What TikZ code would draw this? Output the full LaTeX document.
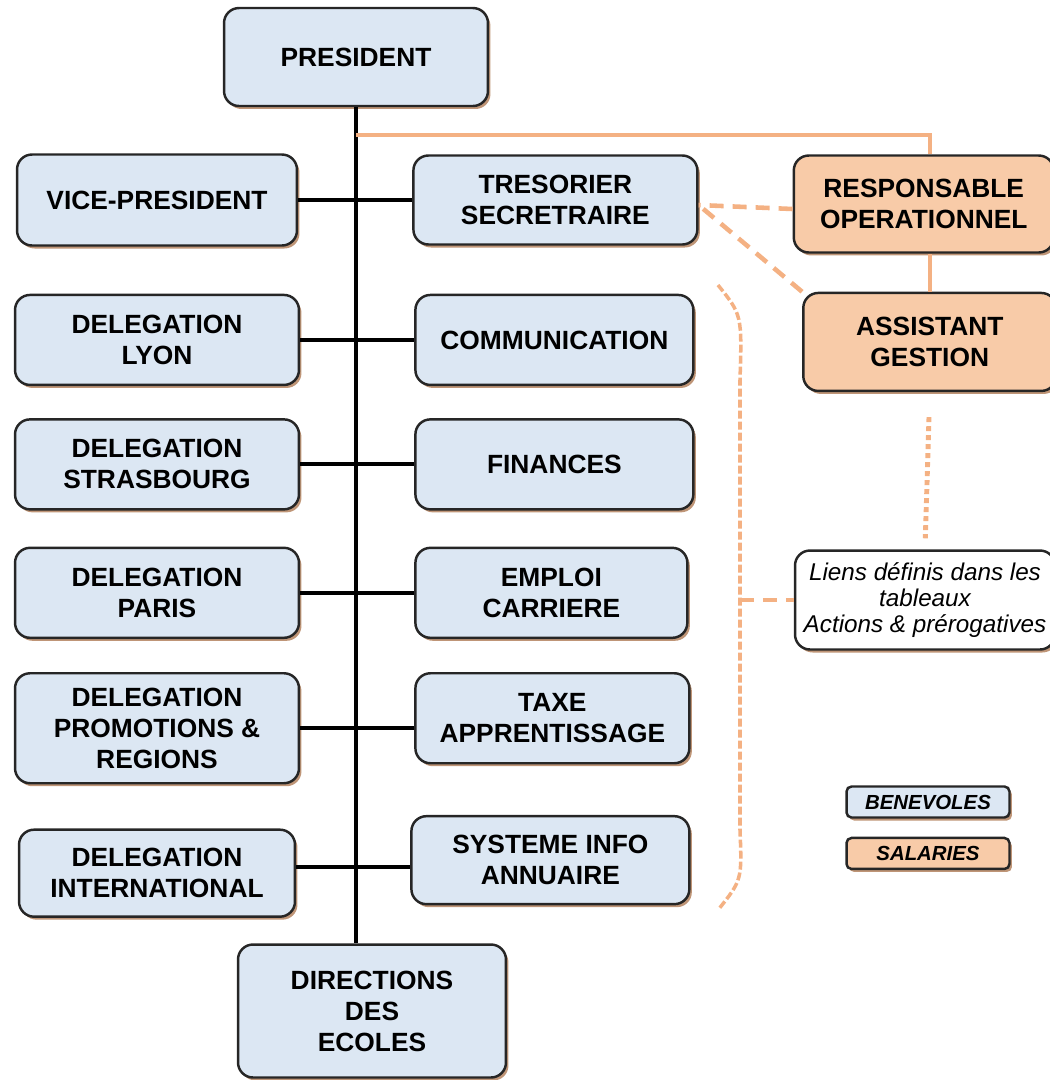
\documentclass[tikz,border=0pt]{standalone}
\usepackage{fontspec}
\setmainfont{Liberation Sans}
\usetikzlibrary{positioning,shadows,calc}

\definecolor{benfill}{HTML}{DCE7F3}
\definecolor{salfill}{HTML}{F8CBA8}
\definecolor{salline}{HTML}{F4B183}
\definecolor{shade}{HTML}{B88A68}

\begin{document}
\begin{tikzpicture}[x=0.02cm, y=-0.02cm,
				box/.style={rectangle, rounded corners=0.3cm, draw=black!85, line width=1.4pt, align=center, inner sep=2pt,
					font=\fontsize{15}{17.6}\selectfont\bfseries,
					drop shadow={shadow xshift=0.05cm, shadow yshift=-0.06cm, fill=shade, opacity=0.9}},
				benevole/.style={box, fill=benfill, minimum width=5.68cm, minimum height=1.8cm},
				salarie/.style={box, fill=salfill, minimum width=5.2cm, minimum height=1.94cm},
				note/.style={box, fill=white, minimum width=5.2cm, minimum height=1.98cm,
					font=\fontsize{13.8}{14.7}\selectfont\itshape},
				legend/.style={box, rounded corners=0.1cm, minimum width=3.26cm, minimum height=0.62cm,
					font=\fontsize{11.6}{13}\selectfont\bfseries\itshape},
				link/.style={draw=black, line width=2.2pt},
				sallink/.style={draw=salline, line width=2.2pt},
				saldash/.style={sallink, dash pattern=on 0.28cm off 0.18cm}
			]
			\useasboundingbox (0,0) rectangle (1050,1080);
			\clip (0,0) rectangle (1050,1080);
			% benevoles
			\node[benevole, minimum width=5.28cm, minimum height=1.96cm] (president) at (356,57) {PRESIDENT};
			\node[benevole, minimum width=5.6cm, minimum height=1.82cm] (vicepres) at (157,200) {VICE-PRESIDENT};
			\node[benevole] (lyon) [below=0.94cm of vicepres] {DELEGATION\\LYON};
			\node[benevole] (strasbourg) [below=0.64cm of lyon] {DELEGATION\\STRASBOURG};
			\node[benevole] (paris) [below=0.72cm of strasbourg] {DELEGATION\\PARIS};
			\node[benevole, minimum height=2.2cm] (promo) [below=0.66cm of paris] {DELEGATION\\PROMOTIONS \&\\REGIONS};
			\node[benevole, minimum width=5.52cm, minimum height=1.74cm] (inter) [below=0.88cm of promo] {DELEGATION\\INTERNATIONAL};
			\node[benevole, minimum height=1.78cm] (tresorier) [right=2.28cm of vicepres] {TRESORIER\\SECRETRAIRE};
			\node[benevole, minimum width=5.56cm] (comm) [right=2.28cm of lyon] {COMMUNICATION};
			\node[benevole, minimum width=5.56cm] (finances) [right=2.28cm of strasbourg] {FINANCES};
			\node[benevole, minimum width=5.44cm] (emploi) [right=2.28cm of paris] {EMPLOI\\CARRIERE};
			\node[benevole, minimum width=5.48cm] (taxe) [right=2.28cm of promo.north east, anchor=north west] {TAXE\\APPRENTISSAGE};
			\node[benevole, minimum width=5.56cm, minimum height=1.76cm] (sysinfo) [right=2.28cm of inter, yshift=0.26cm] {SYSTEME INFO\\ANNUAIRE};
			\node[benevole, minimum width=5.36cm, minimum height=2.66cm] (ecoles) at (372,1011) {DIRECTIONS\\DES\\ECOLES};
			% salaries
			\node[salarie] (respop) [right=1.88cm of tresorier, yshift=-0.08cm] {RESPONSABLE\\OPERATIONNEL};
			\node[salarie, minimum width=5.06cm, minimum height=1.96cm] (assistant) [below=0.76cm of respop, xshift=0.12cm] {ASSISTANT\\GESTION};
			\node[note] (liens) at (925,600) {Liens définis dans les\\tableaux\\Actions \& prérogatives};
			% legende
			\node[legend, fill=benfill] (benevoles) at (928,802) {BENEVOLES};
			\node[legend, fill=salfill] (salaries) [below=0.36cm of benevoles] {SALARIES};
			% liaisons
			\coordinate (split) at ($(president.south)+(0,-0.56cm)$);
			\coordinate (bracetip) at (740,600);
			\begin{scope}[link]
			\draw (president.south) -- (president.south |- ecoles.north);
			\draw (vicepres.east) -- (tresorier.west);
			\draw (lyon.east) -- (comm.west);
			\draw (strasbourg.east) -- (finances.west);
			\draw (paris.east) -- (emploi.west);
			\draw (promo.east) -- (promo.east -| taxe.west);
			\draw ([yshift=0.12cm]inter.east) -- ([yshift=0.12cm]inter.east -| sysinfo.west);
			\end{scope}
			\draw[sallink] (split) -| (respop.north -| assistant.north);
			\draw[sallink] (assistant.north) -- (assistant.north |- respop.south);
			\draw[saldash, line width=2.6pt] ([yshift=-0.1cm]respop.west) -- ([yshift=-0.1cm]tresorier.east);
			\draw[saldash, line width=2.6pt] (assistant.north west) -- ([yshift=-0.1cm]tresorier.east);
			\draw[sallink, line width=2.8pt, dash pattern=on 0.1cm off 0.08cm, shorten <=0.5cm, shorten >=0.22cm] (assistant.south) -- (liens.north);
			\draw[sallink, line width=2pt, dash pattern=on 0.16cm off 0.06cm] (718,285) .. controls (742,315) .. (740,380) -- (740,830) .. controls (742,880) .. (718,910);
			\draw[saldash, line width=2.6pt] (bracetip) -- (liens.west);
			\end{tikzpicture}
\end{document}
